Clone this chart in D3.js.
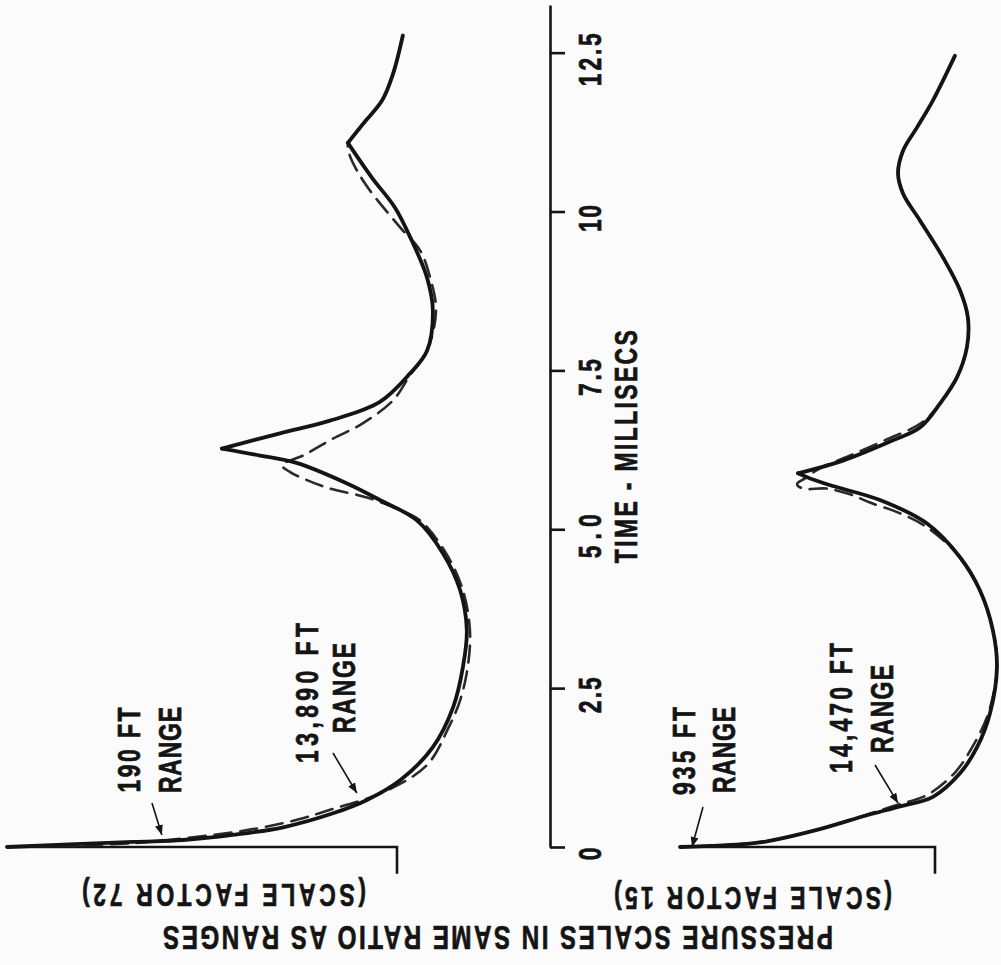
<!DOCTYPE html>
<html><head><meta charset="utf-8">
<script src="https://cdn.jsdelivr.net/npm/d3@7"></script>
<style>html,body{margin:0;padding:0;background:#fbfbfb;} svg{display:block;}</style>
</head><body>
<script>
// ---------- DATA ----------
// time axis (milliseconds)
const timeTicks = [0, 2.5, 5, 7.5, 10, 12.5];
const timeTickLabels = ["0", "2.5", "5.0", "7.5", "10", "12.5"];
const timeAxisMax = 13.25;

// Left panel (scale factor 72) - relative overpressure (peak = 1)
const leftSolidT = [0, 0.08, 0.11, 0.19, 0.31, 0.53, 0.74, 1.05, 1.57, 2.20, 2.83, 3.41, 4.04, 4.62, 5.14, 5.46, 5.72, 6.04, 6.16, 6.27, 6.51, 6.71, 7.00, 7.45, 7.81, 8.44, 8.96, 9.54, 10.06, 10.53, 11.08, 11.38, 11.75, 12.17, 12.77];
const leftSolidP = [1.00, 0.677, 0.549, 0.421, 0.292, 0.164, 0.077, -0.008, -0.092, -0.144, -0.169, -0.179, -0.162, -0.118, -0.051, 0.044, 0.128, 0.256, 0.351, 0.449, 0.300, 0.172, 0.045, -0.033, -0.077, -0.092, -0.077, -0.038, 0.005, 0.064, 0.126, 0.087, 0.038, 0.010, -0.015];
const leftCuspT = [6.27, 11.08];
const leftDashT = [0, 0.06, 0.19, 0.30, 0.44, 0.60, 0.86, 1.29, 1.89, 2.31, 2.86, 3.41, 4.04, 4.62, 5.14, 5.30, 5.50, 5.64, 5.80, 5.90, 6.01, 6.16, 6.40, 6.67, 7.03, 7.42, 7.81, 8.44, 8.96, 9.39, 9.75, 10.44, 10.88, 11.04, 11.38, 11.75, 12.17, 12.77];
const leftDashP = [1.00, 0.677, 0.472, 0.351, 0.249, 0.164, 0.036, -0.077, -0.133, -0.162, -0.182, -0.187, -0.169, -0.126, -0.059, -0.008, 0.077, 0.172, 0.241, 0.274, 0.295, 0.241, 0.172, 0.087, 0.010, -0.033, -0.077, -0.100, -0.085, -0.059, -0.008, 0.082, 0.121, 0.126, 0.087, 0.038, 0.010, -0.015];

// Right panel (scale factor 15)
const rightSolidT = [0, 0.05, 0.09, 0.27, 0.50, 0.64, 0.79, 1.16, 1.57, 2.11, 2.83, 3.41, 4.04, 4.56, 5.09, 5.46, 5.68, 5.80, 5.88, 6.08, 6.40, 6.60, 6.98, 7.39, 7.86, 8.33, 8.76, 9.28, 9.86, 10.28, 10.60, 10.96, 11.32, 11.75, 12.45];
const rightSolidP = [1.00, 0.737, 0.659, 0.463, 0.267, 0.137, 0.008, -0.098, -0.165, -0.216, -0.243, -0.227, -0.176, -0.098, 0.031, 0.216, 0.400, 0.490, 0.537, 0.361, 0.165, 0.059, -0.020, -0.086, -0.125, -0.129, -0.098, -0.031, 0.059, 0.125, 0.145, 0.125, 0.071, 0.008, -0.078];
const rightCuspT = [5.88];
const rightDashT = [0, 0.05, 0.09, 0.27, 0.50, 0.66, 0.82, 1.18, 1.60, 2.11, 2.83, 3.41, 4.04, 4.56, 5.03, 5.25, 5.42, 5.55, 5.64, 5.64, 5.71, 5.80, 5.96, 6.16, 6.40, 6.68, 6.98, 7.39, 7.86, 8.33, 8.76, 9.28, 9.86, 10.28, 10.60, 10.96, 11.32, 11.75, 12.45];
const rightDashP = [1.00, 0.737, 0.659, 0.463, 0.275, 0.150, 0.030, -0.080, -0.150, -0.210, -0.243, -0.227, -0.176, -0.098, 0.031, 0.137, 0.255, 0.333, 0.424, 0.518, 0.541, 0.510, 0.451, 0.333, 0.196, 0.051, -0.020, -0.086, -0.125, -0.129, -0.098, -0.031, 0.059, 0.125, 0.145, 0.125, 0.071, 0.008, -0.078];

// shock base line (jump at t = 0 from ambient to peak, ambient before)
const baseT = [0, 0, -0.42];
const baseP = [1, 0, 0];

// annotation labels and arrow tips (time, relative pressure)
const leftLabels = [["190 FT", "RANGE"], ["13,890 FT", "RANGE"]];
const leftTipT = [0.19, 0.85];
const leftTipP = [0.603, 0.103];
const rightLabels = [["935 FT", "RANGE"], ["14,470 FT", "RANGE"]];
const rightTipT = [0.0, 0.69];
const rightTipP = [0.953, 0.145];
const scaleLabels = ["(SCALE FACTOR 72)", "(SCALE FACTOR 15)"];
const axisTitle = "TIME - MILLISECS";
const bottomTitle = "PRESSURE SCALES IN SAME RATIO AS RANGES";

// ---------- DRAW ----------
const W = 1001, H = 965;
const INK = "#141414";
const FONT = "'Liberation Sans',Arial,sans-serif";
const SX = 0.74; // horizontal condensing of the lettering
const svg = d3.select("body").append("svg").attr("width", W).attr("height", H);
svg.append("rect").attr("width", W).attr("height", H).attr("fill", "#fbfbfb");

const defs = svg.append("defs");
defs.append("marker").attr("id", "arr").attr("markerUnits", "userSpaceOnUse")
  .attr("markerWidth", 11).attr("markerHeight", 8).attr("refX", 10).attr("refY", 4)
  .attr("orient", "auto")
  .append("path").attr("d", "M0,0 L10,4 L0,8 z").attr("fill", INK);

const timeScale = d3.scaleLinear().domain([0, timeAxisMax]).range([847, 5]);
const leftScale = d3.scaleLinear().domain([0, 1]).range([397, 7]);
const rightScale = d3.scaleLinear().domain([0, 1]).range([935, 680]);

function txt(s, x, y, rot, size, len) {
  const t = svg.append("text")
    .attr("transform", `translate(${x},${y}) rotate(${rot}) scale(${SX},1)`)
    .attr("text-anchor", "middle").attr("dominant-baseline", "central")
    .attr("font-family", FONT).attr("font-weight", 700).attr("font-size", size)
    .attr("fill", INK).attr("stroke", INK).attr("stroke-width", 0.7)
    .text(s);
  if (len) t.attr("textLength", len / SX).attr("lengthAdjust", "spacing");
  return t;
}

// time axis
const axis = d3.axisRight(timeScale).tickValues(timeTicks).tickSize(15).tickSizeOuter(0).tickFormat("");
const gAxis = svg.append("g").attr("transform", "translate(550,0)").call(axis);
gAxis.selectAll("path,line").attr("stroke", INK).attr("stroke-width", 2.6);
gAxis.selectAll("text").remove();

const tickLabelLen = [15, 36, 44, 37, 27, 53];
timeTicks.forEach((d, i) => txt(timeTickLabels[i], 590, timeScale(d) + 7, -90, 31, tickLabelLen[i]));
txt(axisTitle, 626, timeScale(6.3), -90, 31, 233);

function zip(T, P) { return T.map((t, i) => ({ t: t, p: P[i] })); }

function drawPanel(pScale, solidT, solidP, cusps, dashT, dashP) {
  const g = svg.append("g");
  const lineC = d3.line().x(d => pScale(d.p)).y(d => timeScale(d.t)).curve(d3.curveCatmullRom.alpha(0.5));
  const lineL = d3.line().x(d => pScale(d.p)).y(d => timeScale(d.t));
  g.append("path").attr("d", lineL(zip(baseT, baseP)))
    .attr("fill", "none").attr("stroke", INK).attr("stroke-width", 2.6).attr("stroke-linejoin", "miter");
  g.append("path").attr("d", lineC(zip(dashT, dashP)))
    .attr("fill", "none").attr("stroke", "#2a2a2a").attr("stroke-width", 2.6)
    .attr("stroke-dasharray", "17,9").attr("stroke-linecap", "round");
  const pts = zip(solidT, solidP);
  let start = 0;
  const segs = [];
  pts.forEach((d, i) => {
    if (cusps.includes(d.t)) { segs.push(pts.slice(start, i + 1)); start = i; }
  });
  segs.push(pts.slice(start));
  segs.forEach(s => {
    g.append("path").attr("d", lineC(s))
      .attr("fill", "none").attr("stroke", INK).attr("stroke-width", 3.8)
      .attr("stroke-linejoin", "miter").attr("stroke-miterlimit", 10).attr("stroke-linecap", "round");
  });
}

drawPanel(leftScale, leftSolidT, leftSolidP, leftCuspT, leftDashT, leftDashP);
drawPanel(rightScale, rightSolidT, rightSolidP, rightCuspT, rightDashT, rightDashP);

// annotations
function label(lines, pos) {
  lines.forEach((s, i) => txt(s, pos[i][0], pos[i][1], -90, 31, pos[i][2]));
}
label(leftLabels[0], [[129, 750, 85], [170, 750, 86]]);
label(leftLabels[1], [[307, 693, 140], [344, 688, 90]]);
label(rightLabels[0], [[684, 751, 88], [724, 750, 86]]);
label(rightLabels[1], [[841, 708, 130], [882, 709, 88]]);

function arrow(x0, y0, x1, y1) {
  svg.append("line").attr("x1", x0).attr("y1", y0).attr("x2", x1).attr("y2", y1)
    .attr("stroke", INK).attr("stroke-width", 1.6).attr("marker-end", "url(#arr)");
}
arrow(152, 803, leftScale(leftTipP[0]), timeScale(leftTipT[0]));
arrow(333, 753, leftScale(leftTipP[1]), timeScale(leftTipT[1]));
arrow(703, 807, rightScale(rightTipP[0]), timeScale(rightTipT[0]));
arrow(875, 765, rightScale(rightTipP[1]), timeScale(rightTipT[1]));

// upside-down bottom texts
txt(scaleLabels[0], 224, 895, 180, 31, 284);
txt(scaleLabels[1], 753, 898, 180, 31, 278);
txt(bottomTitle, 498, 937, 180, 33, 670);
</script>
</body></html>
